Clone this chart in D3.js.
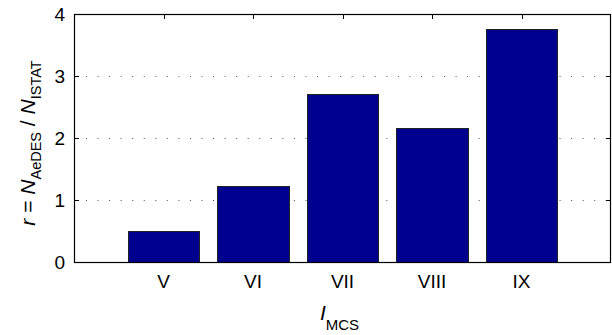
<!DOCTYPE html>
<html>
<head>
<meta charset="utf-8">
<script src="https://cdn.jsdelivr.net/npm/d3@7/dist/d3.min.js"></script>
<style>
  html, body { margin: 0; padding: 0; background: #fff; }
  svg { display: block; font-family: "Liberation Sans", Arial, sans-serif; }
</style>
</head>
<body>
<svg id="chart" width="612" height="335"></svg>
<script>
// Intensity classes and the ratio r = N_AeDES / N_ISTAT for each
const categories = ["V", "VI", "VII", "VIII", "IX"];
const ratios = [0.5, 1.23, 2.71, 2.16, 3.76];
const yTicks = [0, 1, 2, 3, 4];
const gridValues = [1, 2, 3];

const svg = d3.select("#chart");
const plot = { left: 74, right: 611, top: 14, bottom: 262 };

// bar positions: category i sits at i+1 on a 0..6 axis
const x = d3.scaleLinear().domain([0, categories.length + 1]).range([plot.left, plot.right]);
const y = d3.scaleLinear().domain([0, 4]).range([plot.bottom, plot.top]);
const barWidth = 0.8;
const tickLen = 5;

// dotted grid lines
svg.append("g").selectAll("line").data(gridValues).join("line")
  .attr("x1", plot.left + 12).attr("x2", plot.right)
  .attr("y1", d => Math.round(y(d)) + 0.5).attr("y2", d => Math.round(y(d)) + 0.5)
  .attr("stroke", "#555").attr("stroke-width", 1.2)
  .attr("stroke-dasharray", "1 10.55");

// inward tick marks on all four sides (drawn under the bars)
const ticks = svg.append("g").attr("stroke", "#000").attr("stroke-width", 1);
yTicks.forEach(v => {
  const yy = Math.round(y(v)) + 0.5;
  ticks.append("line").attr("x1", plot.left).attr("x2", plot.left + tickLen).attr("y1", yy).attr("y2", yy);
  ticks.append("line").attr("x1", plot.right - tickLen).attr("x2", plot.right).attr("y1", yy).attr("y2", yy);
});
categories.forEach((c, i) => {
  const xx = Math.round(x(i + 1)) + 0.5;
  ticks.append("line").attr("x1", xx).attr("x2", xx).attr("y1", plot.top).attr("y2", plot.top + tickLen);
  ticks.append("line").attr("x1", xx).attr("x2", xx).attr("y1", plot.bottom - tickLen).attr("y2", plot.bottom);
});

// bars
svg.append("g").selectAll("rect").data(ratios).join("rect")
  .attr("x", (d, i) => Math.round(x(i + 1 - barWidth / 2)) + 0.5)
  .attr("width", (d, i) => Math.round(x(i + 1 + barWidth / 2)) - Math.round(x(i + 1 - barWidth / 2)))
  .attr("y", d => Math.round(y(d)) + 0.5)
  .attr("height", d => Math.round(y(0)) - Math.round(y(d)))
  .attr("fill", "#00008f")
  .attr("stroke", "#222").attr("stroke-width", 1);

// axes box
svg.append("rect")
  .attr("x", plot.left + 0.5).attr("y", plot.top + 0.5)
  .attr("width", plot.right - plot.left - 1).attr("height", plot.bottom - plot.top)
  .attr("fill", "none").attr("stroke", "#000").attr("stroke-width", 1.2);

// y tick labels
svg.append("g").selectAll("text").data(yTicks).join("text")
  .attr("x", plot.left - 9).attr("y", d => y(d)).attr("dy", "0.36em")
  .attr("text-anchor", "end").attr("font-size", 19).attr("fill", "#000")
  .text(d => d);

// x tick labels
svg.append("g").selectAll("text").data(categories).join("text")
  .attr("x", (d, i) => x(i + 1)).attr("y", 288)
  .attr("text-anchor", "middle").attr("font-size", 19).attr("fill", "#000")
  .text(d => d);

// y axis title: r = N_AeDES / N_ISTAT
const yl = svg.append("text")
  .attr("transform", `translate(35, ${(plot.top + plot.bottom) / 2 + 5}) rotate(-90)`)
  .attr("text-anchor", "middle").attr("font-size", 21).attr("fill", "#000");
yl.append("tspan").attr("font-style", "italic").text("r");
yl.append("tspan").text(" = ");
yl.append("tspan").attr("font-style", "italic").text("N");
yl.append("tspan").attr("font-size", 14.5).attr("dy", 6).text("AeDES");
yl.append("tspan").attr("dy", -6).text(" / ");
yl.append("tspan").attr("font-style", "italic").text("N");
yl.append("tspan").attr("font-size", 14.5).attr("dy", 6).text("ISTAT");

// x axis title: I_MCS
const xl = svg.append("text")
  .attr("x", (plot.left + plot.right) / 2 - 3).attr("y", 320)
  .attr("text-anchor", "middle").attr("font-size", 21).attr("fill", "#000");
xl.append("tspan").attr("font-style", "italic").text("I");
xl.append("tspan").attr("font-size", 15).attr("dy", 10).text("MCS");
</script>
</body>
</html>
